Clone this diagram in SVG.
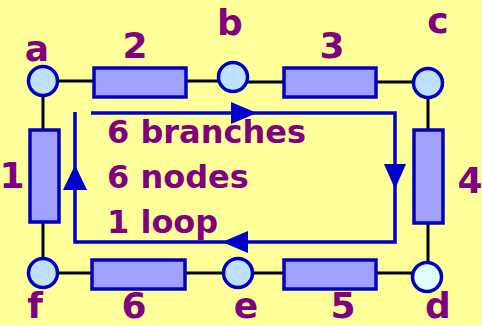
<svg xmlns="http://www.w3.org/2000/svg" width="482" height="326" viewBox="0 0 482 326">
<style>
.wire{stroke:#000;stroke-width:3;fill:none}
.res{fill:#a0a0ff;stroke:#0000c0;stroke-width:3.5}
.node{fill:#c0e0ff;stroke:#0000c0;stroke-width:3.5}
.loop{stroke:#0000cc;stroke-width:3.5;fill:none}
.ah{fill:#0000cc}
.lbl{font-family:"DejaVu Sans",Verdana,sans-serif;font-weight:bold;font-size:36px;fill:#800080;text-anchor:middle}
.txt{font-family:"DejaVu Sans",Verdana,sans-serif;font-weight:bold;font-size:32px;fill:#800080}
</style>
<rect width="482" height="326" fill="#ffff99"/>
<g id="connectors">
<path class="wire" d="M43,81 H95 M186,81 H233 M233,82 H428 M43,81 V130 M43,222 V273 H238 H427 M428,83 V130 M428,223 V277"/>
<path class="loop" d="M91,113 H395 V242 H75 V112"/>
<polygon class="ah" points="257,113 231,102 231,124"/>
<polygon class="ah" points="395,189 384,164 406,164"/>
<polygon class="ah" points="222,242 248,231 248,253"/>
<polygon class="ah" points="75,165 63,190 87,190"/>
</g>
<g id="r2"><rect class="res" x="94" y="68" width="92" height="29"/></g>
<g id="r3"><rect class="res" x="284" y="68" width="92" height="29"/></g>
<g id="r6"><rect class="res" x="92" y="260" width="93" height="29"/></g>
<g id="r5"><rect class="res" x="284" y="260" width="92" height="29"/></g>
<g id="r1"><rect class="res" x="30" y="130" width="29" height="92"/></g>
<g id="r4"><rect class="res" x="414" y="130" width="29" height="93"/></g>
<g id="a"><circle class="node" cx="43" cy="81" r="14.5"/></g>
<g id="b"><circle class="node" cx="233" cy="77" r="14.5"/></g>
<g id="c"><circle class="node" cx="428" cy="83" r="14.5"/></g>
<g id="d"><circle class="node" cx="427" cy="277" r="14.5" style="fill:#e0ffff"/></g>
<g id="e"><circle class="node" cx="238" cy="273" r="14.5"/></g>
<g id="f"><circle class="node" cx="43" cy="273" r="14.5"/></g>
<g id="labels">
<text class="lbl" x="37" y="61">a</text>
<text class="lbl" x="135" y="58">2</text>
<text class="lbl" x="230" y="35">b</text>
<text class="lbl" x="332" y="58">3</text>
<text class="lbl" x="438" y="33">c</text>
<text class="lbl" x="12" y="188">1</text>
<text class="lbl" x="470" y="193">4</text>
<text class="lbl" x="35" y="318">f</text>
<text class="lbl" x="134" y="318">6</text>
<text class="lbl" x="246" y="318">e</text>
<text class="lbl" x="343" y="318">5</text>
<text class="lbl" x="438" y="318">d</text>
<text class="txt" x="107" y="143">6 branches</text>
<text class="txt" x="107" y="188">6 nodes</text>
<text class="txt" x="107" y="233">1 loop</text>
</g>
</svg>
